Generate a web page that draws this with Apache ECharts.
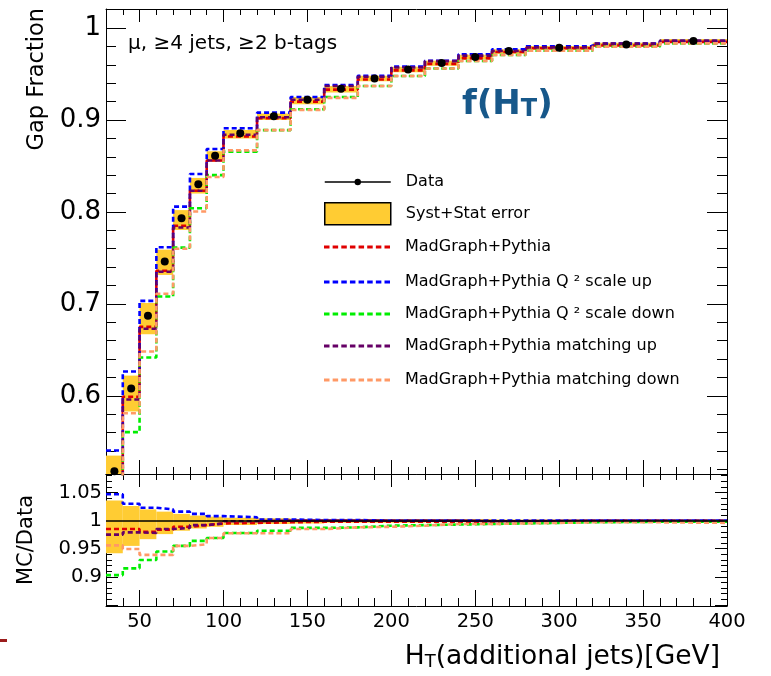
<!DOCTYPE html>
<html><head><meta charset="utf-8">
<script src="https://cdn.jsdelivr.net/npm/echarts@6/dist/echarts.min.js"></script>
<style>html,body{margin:0;padding:0;background:#fff}#c{width:771px;height:676px}</style>
</head><body><div id="c"></div>
<script>
// ---------------- data ----------------
const binEdges   = [30,40,50,60,70,80,90,100,120,140,160,180,200,220,240,260,280,320,360,400];
const binCenters = [35,45,55,65,75,85,95,110,130,150,170,190,210,230,250,270,300,340,380];
const gapData    = [0.518,0.608,0.687,0.746,0.793,0.830,0.861,0.8855,0.904,0.922,0.934,0.945,0.955,0.962,0.9685,0.975,0.9786,0.982,0.986];
const errHi      = [0.535,0.622,0.701,0.759,0.802,0.837,0.866,0.889,0.907,0.925,0.937,0.948,0.958,0.9645,0.971,0.977,0.9805,0.984,0.988];
const errLo      = [0.490,0.583,0.667,0.7315,0.7804,0.820,0.8547,0.880,0.900,0.917,0.930,0.942,0.952,0.959,0.966,0.972,0.976,0.980,0.984];
const mgNominal  = [0.510,0.599,0.675,0.736,0.785,0.823,0.856,0.882,0.902,0.920,0.933,0.944,0.954,0.961,0.967,0.974,0.978,0.981,0.985];
const mgQ2Up     = [0.5405,0.6264,0.7033,0.7616,0.8058,0.8413,0.8685,0.891,0.908,0.925,0.938,0.948,0.958,0.9645,0.9715,0.977,0.980,0.983,0.986];
const mgQ2Down   = [0.468,0.5605,0.6417,0.708,0.7612,0.804,0.840,0.8656,0.889,0.9116,0.925,0.937,0.9478,0.956,0.9641,0.9707,0.9754,0.9797,0.9833];
const mgMatchUp  = [0.505,0.596,0.673,0.735,0.783,0.823,0.856,0.884,0.903,0.922,0.937,0.947,0.957,0.964,0.970,0.975,0.979,0.983,0.986];
const mgMatchDn  = [0.495,0.581,0.6482,0.711,0.760,0.8004,0.838,0.867,0.889,0.911,0.924,0.937,0.9478,0.956,0.9641,0.9707,0.9754,0.9797,0.9833];
// ratio panel (MC / Data)
const ratioNominal = [0.985,0.985,0.980,0.984,0.989,0.992,0.995,0.996,0.997,0.998,0.998,0.998,0.998,0.998,0.997,0.996,0.999,0.999,0.999];
const ratioQ2Up    = [1.047,1.030,1.023,1.020,1.016,1.012,1.008,1.006,1.002,1.001,1.001,1.000,1.000,1.000,1.000,1.000,1.000,1.000,1.000];
const ratioQ2Down  = [0.903,0.915,0.930,0.945,0.955,0.964,0.969,0.978,0.982,0.987,0.988,0.991,0.992,0.993,0.994,0.995,0.997,0.998,0.998];
const ratioMatchUp = [0.975,0.979,0.978,0.985,0.987,0.992,0.995,0.999,1.000,1.000,1.000,1.000,1.000,1.000,0.999,0.999,1.000,1.000,1.000];
const ratioMatchDn = [0.956,0.9495,0.939,0.939,0.955,0.958,0.969,0.9775,0.9775,0.985,0.988,0.989,0.991,0.994,0.994,0.995,0.997,0.997,0.996];
const ratioErrHi   = [1.0357,1.026,1.020,1.016,1.012,1.009,1.007,1.005,1.004,1.003,1.003,1.003,1.003,1.003,1.003,1.002,1.002,1.002,1.002];
const ratioErrLo   = [0.942,0.955,0.967,0.976,0.982,0.986,0.989,0.992,0.994,0.995,0.996,0.996,0.996,0.997,0.997,0.998,0.998,0.998,0.998];
// ticks
const xMajor = [50,100,150,200,250,300,350,400];
const yMainMajor = [0.6,0.7,0.8,0.9,1.0];
const yRatioMajor = [0.85,0.9,0.95,1.0,1.05];
const yRatioLabels = [0.9,0.95,1.0,1.05];
const xMinor = []; for (let v = 30; v <= 400; v += 10) xMinor.push(v);
const yMainMinor = []; for (let k = 26; k <= 51; k++) yMainMinor.push(+(k*0.02).toFixed(2));
const yRatioMinor = []; for (let k = 85; k <= 108; k++) yRatioMinor.push(+(k*0.01).toFixed(2));

// ---------------- chart ----------------
const FONT = 'DejaVu Sans';
const chart = echarts.init(document.getElementById('c'), null, {renderer:'canvas'});
const fmt = v => String(+(+v).toFixed(2));

function axis(o) {
  const a = {
    type:'value', gridIndex:o.grid, position:o.pos, min:o.min, max:o.max,
    splitLine:{show:false}, axisPointer:{show:false}, silent:true,
    axisLine:{show:!!o.line, onZero:false, lineStyle:{color:'#000', width:1}},
    axisTick:{show:true, inside:true, length:o.len, customValues:o.ticks, lineStyle:{color:'#000', width:1}},
    axisLabel: o.labels ? {show:true, customValues:o.labels, formatter:fmt, fontFamily:FONT,
                 fontSize:o.fs, color:'#000', margin:o.margin} : {show:false}
  };
  return Object.assign(a, o.extra || {});
}
const XR = {min:30, max:400};
const YM = {min:0.515, max:1.0207};
const YR = {min:0.848, max:1.083};

const xAxes = [
  axis({grid:0, pos:'bottom', ...XR, line:true, len:14, ticks:xMajor}),
  axis({grid:0, pos:'bottom', ...XR, len:7, ticks:xMinor}),
  axis({grid:0, pos:'top', ...XR, line:true, len:13, ticks:xMajor}),
  axis({grid:0, pos:'top', ...XR, len:6, ticks:xMinor}),
  axis({grid:1, pos:'bottom', ...XR, line:true, len:16, ticks:xMajor, labels:xMajor, fs:19.5, margin:6,
        extra:{name:'H{sub|T}(additional jets)[GeV]', nameLocation:'end', nameGap:-7, nameMoveOverlap:false,
          nameTextStyle:{fontFamily:FONT, fontSize:26.5, color:'#000', align:'right', verticalAlign:'top',
            padding:[38,0,0,0], rich:{sub:{fontFamily:FONT, fontSize:18, color:'#000', verticalAlign:'bottom', lineHeight:12}}}}}),
  axis({grid:1, pos:'bottom', ...XR, len:8, ticks:xMinor}),
  axis({grid:1, pos:'top', ...XR, line:true, len:13, ticks:xMajor}),
  axis({grid:1, pos:'top', ...XR, len:6, ticks:xMinor})
];
const yAxes = [
  axis({grid:0, pos:'left', ...YM, line:true, len:20, ticks:yMainMajor, labels:yMainMajor, fs:26, margin:5}),
  axis({grid:0, pos:'left', ...YM, len:10, ticks:yMainMinor}),
  axis({grid:0, pos:'right', ...YM, line:true, len:20, ticks:yMainMajor}),
  axis({grid:0, pos:'right', ...YM, len:10, ticks:yMainMinor}),
  axis({grid:1, pos:'left', ...YR, line:true, len:12, ticks:yRatioMajor, labels:yRatioLabels, fs:19.5, margin:4,
        extra:{name:'MC/Data', nameLocation:'middle', nameGap:69, nameMoveOverlap:false,
          nameTextStyle:{fontFamily:FONT, fontSize:21, color:'#000'}}}),
  axis({grid:1, pos:'left', ...YR, len:6, ticks:yRatioMinor}),
  axis({grid:1, pos:'right', ...YR, line:true, len:12, ticks:yRatioMajor}),
  axis({grid:1, pos:'right', ...YR, len:6, ticks:yRatioMinor})
];

const stepData = vals => binEdges.map((e, i) => [e, vals[Math.min(i, vals.length - 1)]]);
const boxData = (lo, hi) => lo.map((l, i) => [binEdges[i], binEdges[i+1], l, hi[i]]);

const BAND = '#ffcc33';
function bandSeries(lo, hi, xi, yi, withLine) {
  const s = {
    name:'Syst+Stat error', type:'custom', xAxisIndex:xi, yAxisIndex:yi, z:1, silent:true,
    itemStyle:{color:BAND},
    encode:{x:[0,1], y:[2,3]},
    data: boxData(lo, hi),
    renderItem:(params, api) => {
      const p0 = api.coord([api.value(0), api.value(3)]);
      const p1 = api.coord([api.value(1), api.value(2)]);
      const cs = params.coordSys;
      const r = echarts.graphic.clipRectByRect(
        {x:p0[0], y:p0[1], width:p1[0]-p0[0], height:p1[1]-p0[1]},
        {x:cs.x, y:cs.y, width:cs.width, height:cs.height});
      if (!r) return null;
      return {type:'rect', shape:r, style:{fill:BAND}};
    }
  };
  if (withLine) s.markLine = {silent:true, symbol:'none', label:{show:false},
    lineStyle:{color:'#000', width:1.5, type:'solid'}, data:[{yAxis:1}]};
  return s;
}

const mcDefs = [
  {name:'MadGraph+Pythia', color:'#e00000', main:mgNominal, ratio:ratioNominal},
  {name:'MadGraph+Pythia Q ² scale up', color:'#0000ff', main:mgQ2Up, ratio:ratioQ2Up},
  {name:'MadGraph+Pythia Q ² scale down', color:'#00ee00', main:mgQ2Down, ratio:ratioQ2Down},
  {name:'MadGraph+Pythia matching up', color:'#660066', main:mgMatchUp, ratio:ratioMatchUp},
  {name:'MadGraph+Pythia matching down', color:'#ff9966', main:mgMatchDn, ratio:ratioMatchDn}
];
const stepSeries = (d, vals, xi, yi, z) => ({
  name:d.name, type:'line', step:'end', xAxisIndex:xi, yAxisIndex:yi, z:z, silent:true,
  symbol:'none', showSymbol:false, clip:true,
  itemStyle:{color:d.color},
  lineStyle:{color:d.color, width:2.6, type:[5,3]},
  data: stepData(vals)
});

const series = [bandSeries(errLo, errHi, 0, 0, false), bandSeries(ratioErrLo, ratioErrHi, 4, 4, true)];
mcDefs.forEach((d, k) => {
  series.push(stepSeries(d, d.main, 0, 0, 3 + k*0.1));
  series.push(stepSeries(d, d.ratio, 4, 4, 3 + k*0.1));
});
series.push({
  name:'Data', type:'line', xAxisIndex:0, yAxisIndex:0, z:6, silent:true,
  symbol:'circle', symbolSize:8, showSymbol:true, showAllSymbol:true, clip:true,
  itemStyle:{color:'#000'}, lineStyle:{opacity:0, color:'#000'},
  data: binCenters.map((c, i) => [c, gapData[i]])
});

// legend: one component per row (rows are not evenly spaced in the reference)
let dashPath = 'path://';
for (let k = 0; k < 8; k++) { const x0 = k*(5.5 + 22/7); dashPath += 'M' + x0.toFixed(2) + ',0h5.5v3h-5.5z'; }
const legText = {fontFamily:FONT, fontSize:16, color:'#000', padding:[0,0,0,10]};
const legRows = [
  {item:{name:'Data', lineStyle:{opacity:1, color:'#000', width:1.5, type:'solid'}, itemStyle:{color:'#000'}}, w:66, h:8, cy:182},
  {item:{name:'Syst+Stat error', icon:'rect', itemStyle:{color:BAND, borderColor:'#000', borderWidth:1.5}}, w:66, h:22, cy:213},
  {item:{name:mcDefs[0].name, icon:dashPath}, w:66, h:3, cy:247},
  {item:{name:mcDefs[1].name, icon:dashPath}, w:66, h:3, cy:282},
  {item:{name:mcDefs[2].name, icon:dashPath}, w:66, h:3, cy:314},
  {item:{name:mcDefs[3].name, icon:dashPath}, w:66, h:3, cy:346},
  {item:{name:mcDefs[4].name, icon:dashPath}, w:66, h:3, cy:380}
];
const legends = legRows.map(r => ({
  data:[r.item], left:324, top: r.cy - Math.max(r.h, 16)/2, orient:'vertical', padding:0,
  itemWidth:r.w, itemHeight:r.h, selectedMode:false, textStyle:legText
}));

chart.setOption({
  animation:false,
  backgroundColor:'#fff',
  textStyle:{fontFamily:FONT},
  title:{text:'μ, ≥4 jets, ≥2 b-tags', left:128, top:34, padding:0,
         textStyle:{fontFamily:FONT, fontSize:20, fontWeight:'normal', color:'#000'}},
  grid:[
    {left:106, top:9, width:621, height:465, containLabel:false, outerBoundsMode:'none', show:false},
    {left:106, top:474, width:621, height:132, containLabel:false, outerBoundsMode:'none', show:false}
  ],
  xAxis:xAxes, yAxis:yAxes,
  legend:legends,
  series:series,
  graphic:[
    {type:'text', x:37, y:8, rotation:Math.PI/2, silent:true,
     style:{text:'Gap Fraction', fontFamily:FONT, fontSize:22.5, fill:'#000', align:'right', verticalAlign:'middle'}},
    {type:'text', left:462, top:88, silent:true,
     style:{text:'f(H{sub|T})', fontFamily:FONT, fontSize:34, fontWeight:'bold', fill:'#17588a',
       rich:{sub:{fontFamily:FONT, fontSize:24, fontWeight:'bold', fill:'#17588a', verticalAlign:'bottom', lineHeight:16}}}},
    {type:'rect', left:0, top:639, silent:true, shape:{width:7, height:3}, style:{fill:'#9b1c1c'}}
  ]
});
</script></body></html>
